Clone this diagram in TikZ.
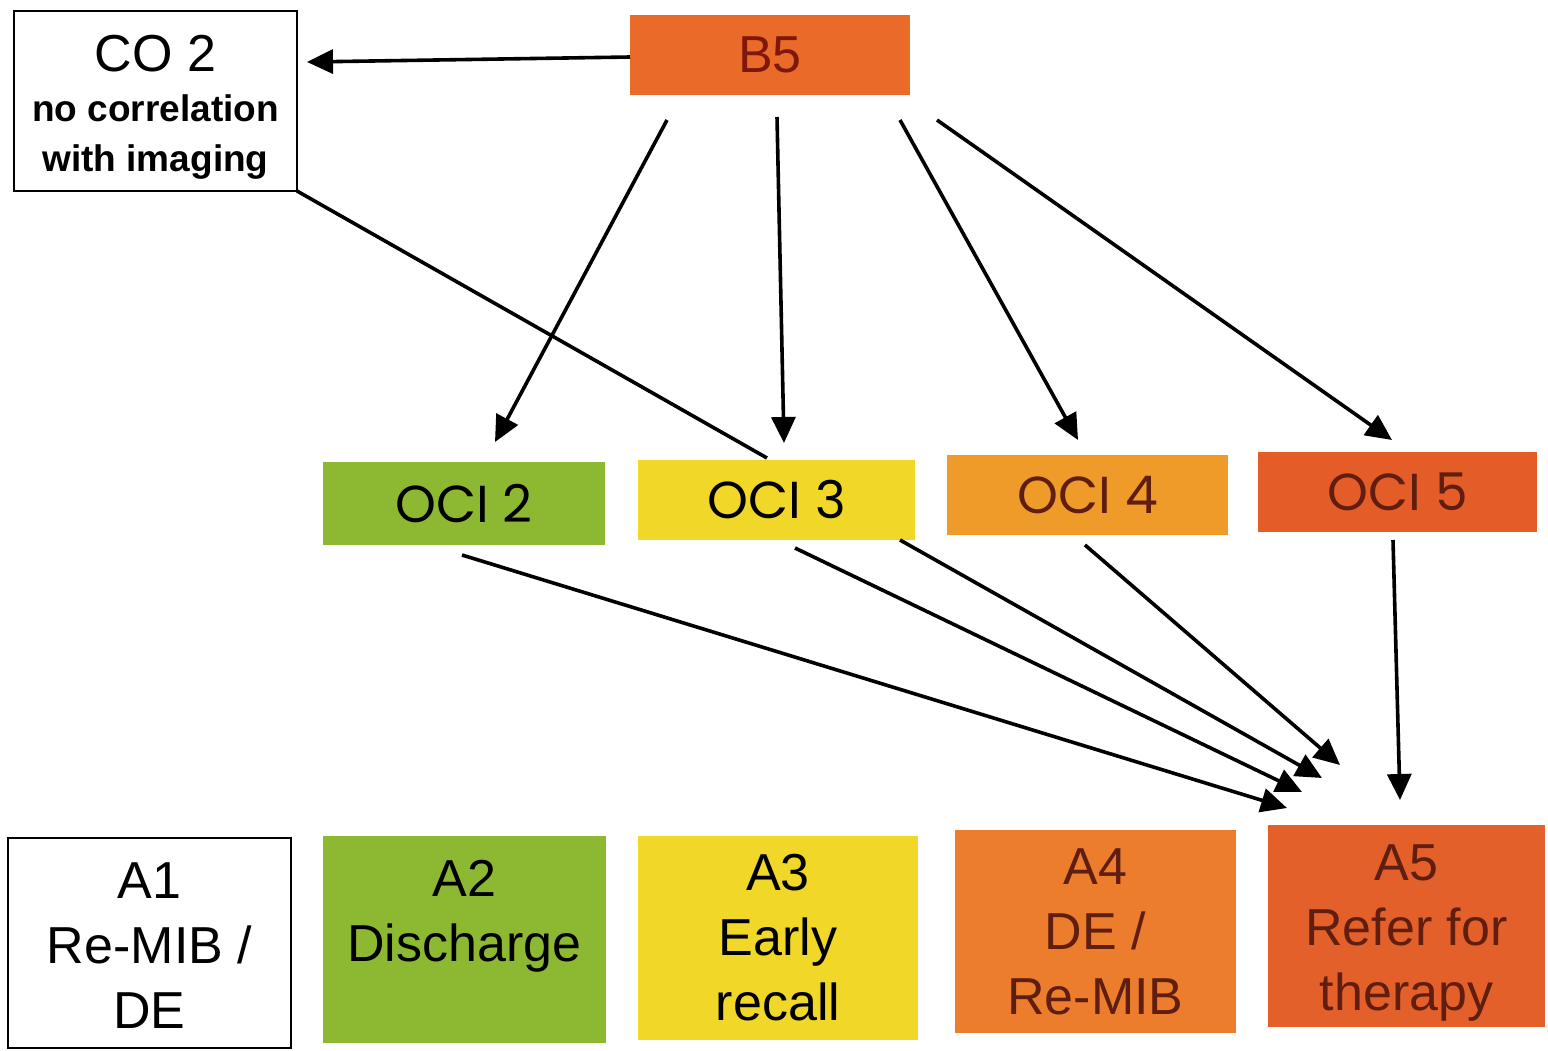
\documentclass[tikz,border=0pt]{standalone}
\usepackage{fontspec}
\setmainfont{Liberation Sans}
\newfontfamily\gothic{Poppins}
\usetikzlibrary{arrows.meta,calc}
\definecolor{cB}{RGB}{234,106,42}
\definecolor{cGreen}{RGB}{141,185,50}
\definecolor{cYellow}{RGB}{241,215,40}
\definecolor{cOrange}{RGB}{238,155,42}
\definecolor{cRed}{RGB}{228,92,40}
\definecolor{cA4}{RGB}{235,125,45}
\definecolor{cA5}{RGB}{228,96,42}
\definecolor{darktext}{RGB}{95,30,15}
\begin{document}
\begin{tikzpicture}[x=0.5pt,y=-0.5pt,
  box/.style={rectangle, inner sep=0pt, outer sep=0pt},
  wbox/.style={box, draw=black, line width=1pt, fill=white},
  obox/.style={box, font=\gothic\fontsize{26}{30}\selectfont},
  abox/.style={box},
  atext/.style={inner sep=0pt, align=center, font=\fontsize{26}{32.5}\selectfont},
  arr/.style={-{Triangle[length=13pt,width=12pt]}, line width=1.8pt},
  plain/.style={line width=1.8pt}]
\useasboundingbox[fill=white] (0,0) rectangle (1548,1050);

% top row
\node[wbox, minimum width=141.5pt, minimum height=90pt] (co2) at (155.5,101) {};
\node[inner sep=0pt, align=center, font=\bfseries\fontsize{18.5}{25}\selectfont] (co2t)
  at ($(co2.center)+(0,6)$)
  {{\mdseries\fontsize{26}{26}\selectfont CO 2}\\no correlation\\with imaging};
\node[box, fill=cB, minimum width=140pt, minimum height=40pt,
      font=\fontsize{26}{30}\selectfont, text=darktext!80!red] (b5) at (770,55) {B5};

% middle row
\node[obox, fill=cGreen, minimum width=141pt, minimum height=41.5pt] (oci2) at (464,503.5) {OCI 2};
\node[obox, fill=cYellow, minimum width=138.5pt, minimum height=40pt] (oci3) at (776.5,500) {OCI 3};
\node[obox, fill=cOrange, minimum width=140.5pt, minimum height=40pt, text=darktext] (oci4) at (1087.5,495) {OCI 4};
\node[obox, fill=cRed, minimum width=139.5pt, minimum height=40pt, text=darktext] (oci5) at (1397.5,492) {OCI 5};

% bottom row
\node[wbox, minimum width=141.5pt, minimum height=105pt] (a1) at (149.5,943) {};
\node[abox, fill=cGreen, minimum width=141.5pt, minimum height=103.5pt] (a2) at (464.5,939.5) {};
\node[abox, fill=cYellow, minimum width=140pt, minimum height=102pt] (a3) at (778,938) {};
\node[abox, fill=cA4, minimum width=140.5pt, minimum height=101.5pt] (a4) at (1095.5,931.5) {};
\node[abox, fill=cA5, minimum width=138.5pt, minimum height=101pt] (a5) at (1406.5,926) {};

\node[atext, anchor=north] (a1t) at ($(a1.north)+(0,24)$) {A1\\Re-MIB /\\DE};
\node[atext, anchor=north] (a2t) at ($(a2.north)+(0,24)$) {A2\\Discharge};
\node[atext, anchor=north] (a3t) at ($(a3.north)+(0,18)$) {A3\\Early\\recall};
\node[atext, anchor=north, text=darktext] (a4t) at ($(a4.north)+(0,18)$) {A4\\DE /\\Re-MIB};
\node[atext, anchor=north, text=darktext] (a5t) at ($(a5.north)+(0,19)$) {A5\\Refer for\\therapy};

% connectors from B5
\draw[arr] ($(b5.west)+(0,2)$) -- ($(co2.east)+(10,-39)$);
\draw[arr] ($(b5.south)+(-103,25)$) -- ($(oci2.north)+(31,-20)$);
\draw[arr] ($(b5.south)+(7,22)$) -- ($(oci3.north)+(7.5,-17)$);
\draw[arr] ($(b5.south)+(130,25)$) -- ($(oci4.north)+(-9.5,-15)$);
\draw[arr] ($(b5.south)+(167,25)$) -- ($(oci5.north)+(-5.5,-12)$);

% CO2 to OCI 3 (no head)
\draw[plain] (co2.south east) -- ($(oci3.north)+(-9.5,-2)$);

% connectors to A5
\draw[arr] ($(oci2.south)+(-2,10)$) -- ($(a5.north)+(-119.5,-17)$);
\draw[arr] ($(oci3.south)+(18.5,8)$) -- ($(a5.north)+(-104.5,-33)$);
\draw[arr] ($(oci3.south)+(123.5,0)$) -- ($(a5.north)+(-84.5,-47)$);
\draw[arr] ($(oci4.south)+(-2.5,10)$) -- ($(a5.north)+(-66.5,-60)$);
\draw[arr] ($(oci5.south)+(-4.5,8)$) -- ($(a5.north)+(-6.5,-25)$);
\end{tikzpicture}
\end{document}
